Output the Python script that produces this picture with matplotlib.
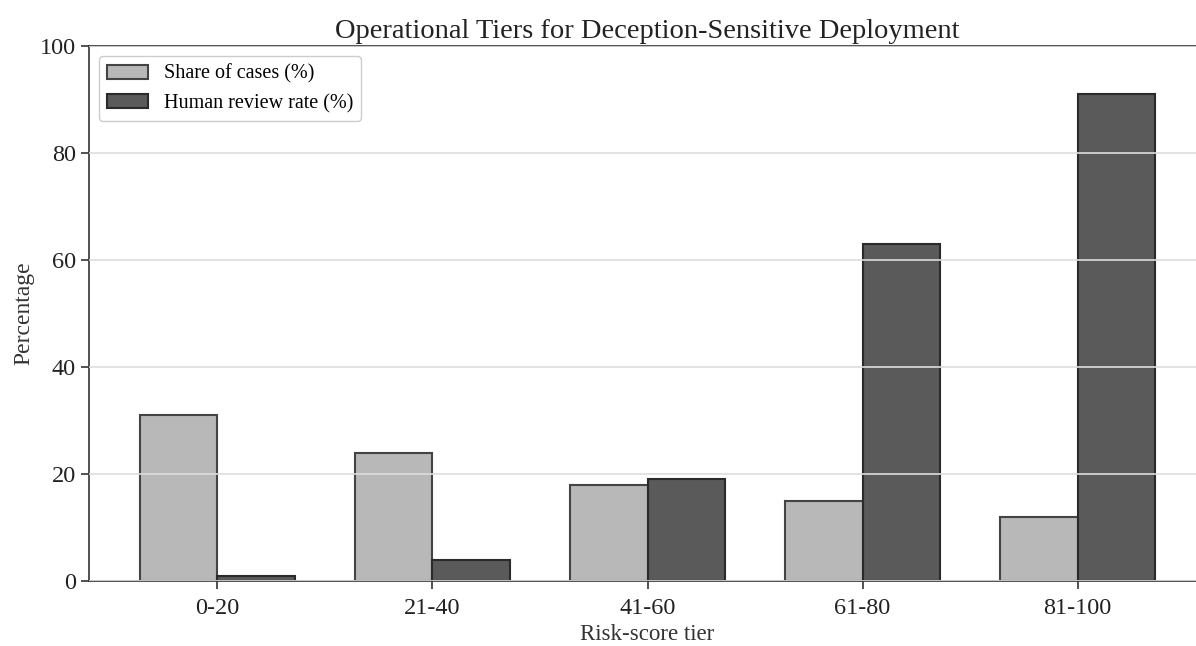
import numpy as np
import matplotlib
matplotlib.use("Agg")
import matplotlib.pyplot as plt

plt.rcParams['font.family'] = ['Liberation Serif', 'DejaVu Serif']

tiers = ['0-20', '21-40', '41-60', '61-80', '81-100']
share_of_cases = [31, 24, 18, 15, 12]
human_review_rate = [1, 4, 19, 63, 91]

fig = plt.figure(figsize=(11.96, 6.46), dpi=100)
ax = fig.add_axes([0.0745, 0.1006, 0.9338, 0.828])

x = np.arange(len(tiers))
w = 0.36
ax.bar(x - w / 2, share_of_cases, w, color='#b8b8b8', edgecolor='#444444',
       linewidth=1.5, label='Share of cases (%)')
ax.bar(x + w / 2, human_review_rate, w, color='#5a5a5a', edgecolor='#2a2a2a',
       linewidth=1.5, label='Human review rate (%)')

ax.set_axisbelow(False)
ax.yaxis.grid(True, color='#dddddd', linewidth=1.2)
ax.set_ylim(0, 100)
ax.set_xticks(x)
ax.set_xticklabels(tiers)
ax.tick_params(labelsize=17.5, color='#333333', labelcolor='#222222',
               length=6, width=1.2)
ax.tick_params(axis='x', pad=6)
for s in ax.spines.values():
    s.set_color('#333333')
    s.set_linewidth(1.2)

ax.set_xlabel('Risk-score tier', fontsize=16.5, color='#333333', labelpad=4)
ax.set_ylabel('Percentage', fontsize=17, color='#333333')
ax.set_title('Operational Tiers for Deception-Sensitive Deployment', fontsize=20.5,
             color='#222222')
leg = ax.legend(loc='upper left', fontsize=14.5, framealpha=1, edgecolor='#cccccc')

fig.savefig('out.png', dpi=100)
